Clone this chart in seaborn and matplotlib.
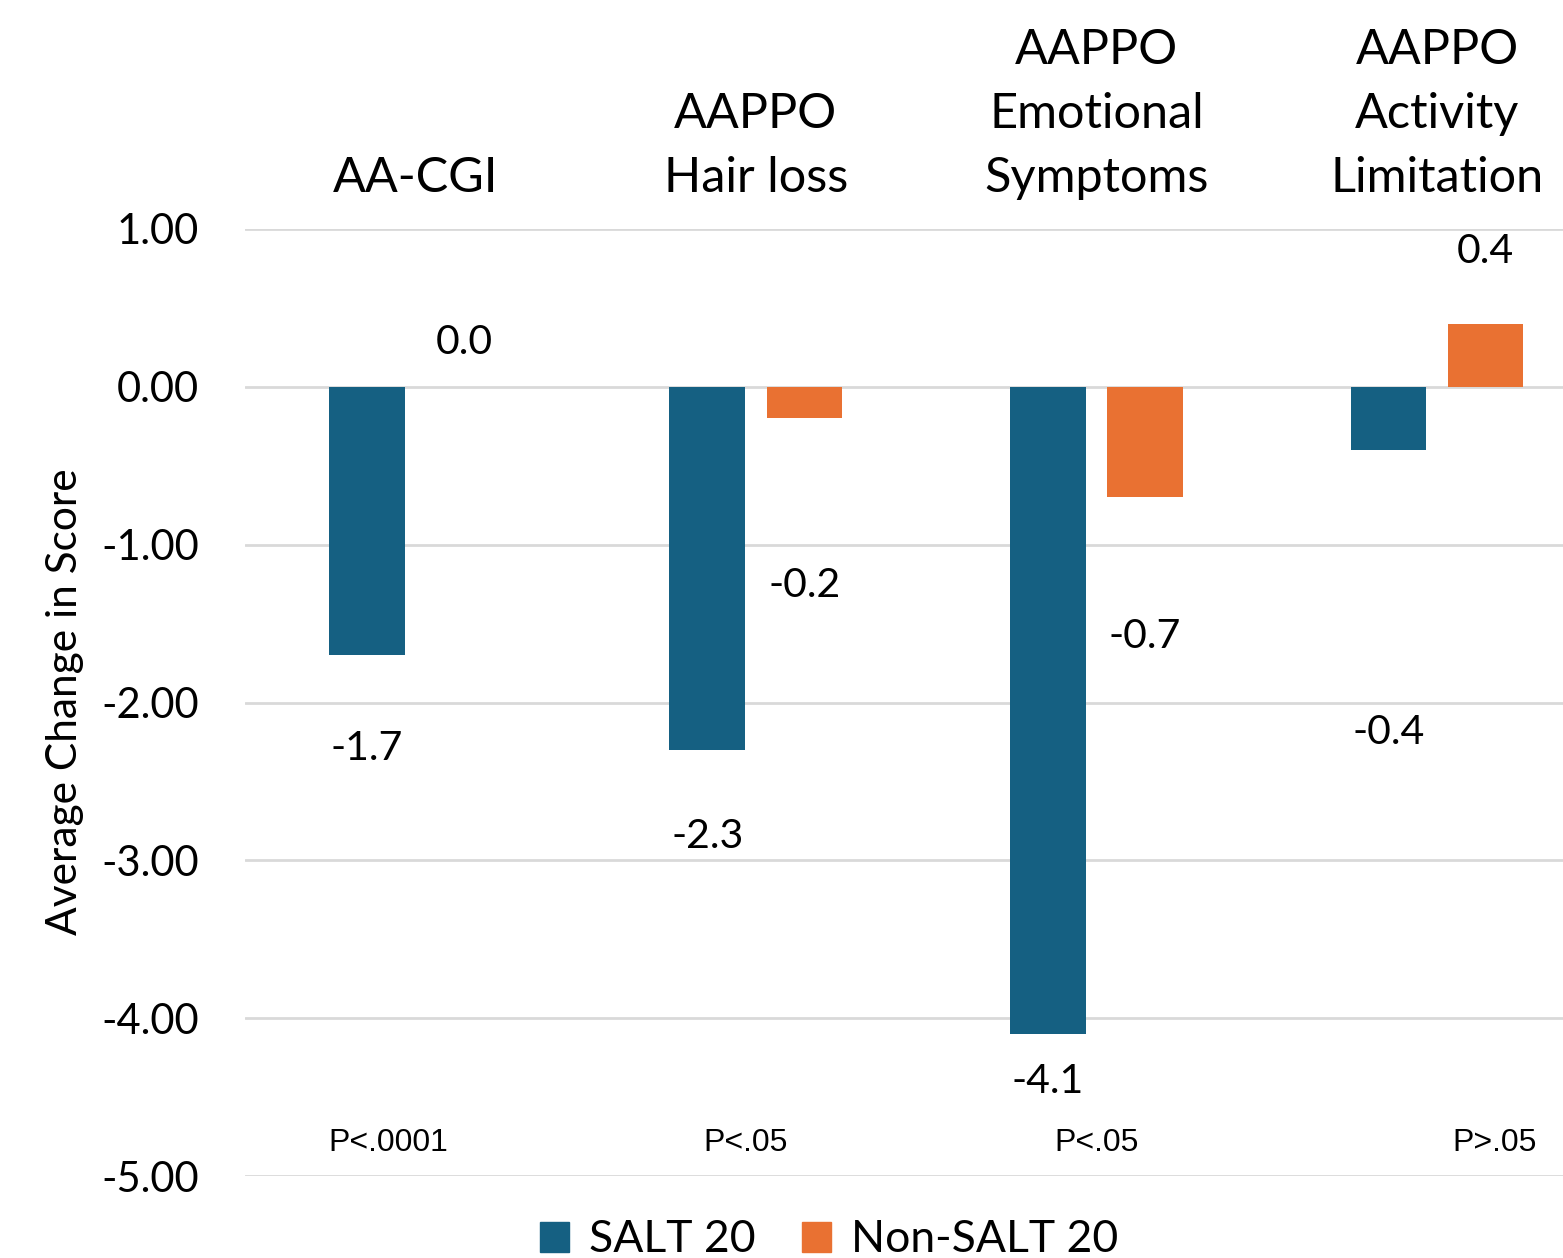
import matplotlib

matplotlib.use("Agg")
import matplotlib.pyplot as plt
import pandas as pd
import seaborn as sns
from matplotlib.patches import Patch

categories = [
    "AA-CGI",
    "AAPPO\nHair loss",
    "AAPPO\nEmotional\nSymptoms",
    "AAPPO\nActivity\nLimitation",
]
series = ["SALT 20", "Non-SALT 20"]
salt20 = [-1.7, -2.3, -4.1, -0.4]
non_salt20 = [0.0, -0.2, -0.7, 0.4]
p_values = ["P<.0001", "P<.05", "P<.05", "P>.05"]
y_ticks = [1, 0, -1, -2, -3, -4, -5]

# hand-placed label heights (data units), as in the original slide
salt_label_y = [-2.29, -2.85, -4.40, -2.19]
non_salt_label_y = [0.28, -1.26, -1.58, 0.86]
p_label_x = [-0.08, 0.97, 2.0, 3.17]
p_label_y = -4.79

colors = {"SALT 20": "#156082", "Non-SALT 20": "#E97132"}

df = pd.DataFrame(
    {
        "category": categories * 2,
        "group": [series[0]] * 4 + [series[1]] * 4,
        "value": salt20 + non_salt20,
    }
)

sns.set_theme(style="white")
plt.rcParams["font.family"] = ["Lato", "DejaVu Sans"]
plt.rcParams["text.color"] = "black"
plt.rcParams["xtick.color"] = "black"
plt.rcParams["ytick.color"] = "black"

fig = plt.figure(figsize=(15.63, 12.58), dpi=100)
ax = fig.add_axes([245 / 1563, 82 / 1258, (1563 - 245) / 1563, 947 / 1258])

sns.barplot(
    data=df,
    x="category",
    y="value",
    hue="group",
    order=categories,
    hue_order=series,
    palette=colors,
    saturation=1,
    width=0.57,
    gap=0.22,
    linewidth=0,
    legend=False,
    ax=ax,
    zorder=3,
)

ax.set_xlim(-0.5, 3.37)
ax.set_ylim(-5, 1)
ax.set_yticks(y_ticks)
ax.set_yticklabels([f"{t:.2f}" for t in y_ticks], fontsize=30)
ax.yaxis.grid(True, color="#D9D9D9", linewidth=2)
ax.set_axisbelow(True)
for s in ax.spines.values():
    s.set_visible(False)
ax.tick_params(axis="y", length=0, pad=33)
ax.tick_params(
    axis="x", length=0, top=False, bottom=False, labeltop=True, labelbottom=False, pad=21
)
for lbl in ax.get_xticklabels():
    lbl.set_fontsize(35)
    lbl.set_linespacing(1.55)
ax.set_xlabel("")
ax.set_ylabel("")

# data labels
bars = ax.patches
label_heights = salt_label_y + non_salt_label_y
values = salt20 + non_salt20
for bar, v, ly in zip(bars[:8], values, label_heights):
    cx = bar.get_x() + bar.get_width() / 2
    ax.text(cx, ly, f"{v:.1f}", ha="center", va="center", fontsize=29.5)

for px, txt in zip(p_label_x, p_values):
    ax.text(px, p_label_y, txt, ha="center", va="center", fontsize=23,
            family=["Liberation Sans", "DejaVu Sans"])

fig.text(65 / 1563, 1 - 702 / 1258, "Average Change in Score", rotation=90,
         ha="center", va="center", fontsize=30.5)

handles = [Patch(color=colors[s]) for s in series]
fig.legend(
    handles,
    series,
    loc="center",
    bbox_to_anchor=(829 / 1563, 1 - 1240 / 1258),
    ncol=2,
    frameon=False,
    fontsize=32,
    handlelength=0.65,
    handleheight=0.65,
    handletextpad=0.45,
    columnspacing=1.05,
    borderaxespad=0,
    borderpad=0,
)

fig.savefig("out.png", dpi=100)
